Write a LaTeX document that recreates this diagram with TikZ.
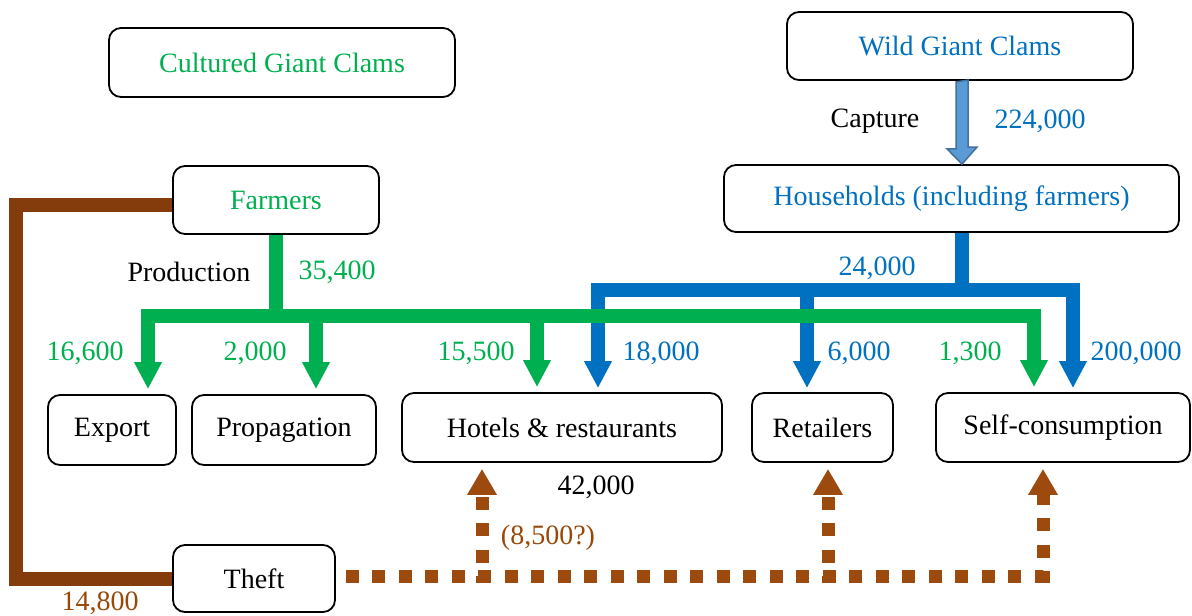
\documentclass[tikz,border=0pt]{standalone}
\usepackage{fontspec}
\setmainfont{Liberation Serif}
\usetikzlibrary{arrows.meta}
\definecolor{cgreen}{HTML}{00B050}
\definecolor{cblue}{HTML}{0070C0}
\definecolor{cbrown}{HTML}{843C0C}
\definecolor{cdot}{HTML}{9C4A0E}
\definecolor{clab}{HTML}{984807}
\definecolor{capfill}{HTML}{5B9BD5}
\definecolor{capedge}{HTML}{41719C}
\begin{document}
\begin{tikzpicture}[x=1pt,y=-1pt,
  every node/.style={font=\fontsize{28}{33}\selectfont},
  box/.style={draw, line width=1.8pt, rounded corners=12pt, fill=white, inner sep=0pt, minimum height=68pt},
  lbl/.style={inner sep=0pt},
  garrow/.style={line width=14pt, draw=cgreen, -{Triangle[width=26pt,length=27pt]}, shorten >=5pt},
  barrow/.style={line width=14pt, draw=cblue, -{Triangle[width=26pt,length=27pt]}, shorten >=4pt},
  brownline/.style={line width=14pt, draw=cbrown},
  dotarrow/.style={line width=13pt, draw=cdot, dash pattern=on 13pt off 13.5pt, -{Triangle[width=28pt,length=26pt]}, shorten >=6pt},
  capture/.style={fill=capfill, draw=capedge, line width=1.5pt, line join=miter}
]
\useasboundingbox (0,0) rectangle (1192,616);

% boxes
\node[box, minimum width=346pt, minimum height=69pt, text=cgreen] (cultured) at (282,62.5) {Cultured Giant Clams};
\node[box, minimum width=346pt, text=cblue] (wild) at (960,46) {Wild Giant Clams};
\node[box, minimum width=455pt, minimum height=67pt, text=cblue] (households) at (951.5,198.5) {Households (including farmers)};
\node[box, minimum width=206pt, text=cgreen] (farmers) at (276,200) {Farmers};
\node[box, minimum width=128pt, minimum height=70pt] (export) at (112,430) {Export};
\node[box, minimum width=184pt, minimum height=70pt] (propagation) at (284,430) {Propagation};
\node[box, minimum width=320pt, minimum height=69pt] (hotels) at (562,427.5) {Hotels \& restaurants};
\node[box, minimum width=141pt, minimum height=69pt] (retailers) at (822.5,427.5) {Retailers};
\node[box, minimum width=254pt, minimum height=69pt] (self) at (1063,427.5) {Self-consumption};
\node[box, minimum width=162pt, minimum height=67pt] (theft) at (254,578.5) {Theft};

% capture arrow
\coordinate (cx) at (962,0);
\draw[capture] (wild.south -| cx) ++(-6,1) -- ++(0,67) -- ++(-9,0) -- (households.north -| cx) -- ++(15,-17) -- ++(-9,0) -- ++(0,-67) -- cycle;

% blue flows
\coordinate (bS) at (962,290);
\coordinate (bL) at (598,290);
\coordinate (bM) at (807,290);
\coordinate (bR) at (1073,290);
\draw[barrow] (households.south -| bS) |- (bL) -- (bL |- hotels.north);
\draw[barrow] (bL) -| (bR |- self.north);
\draw[barrow] (bM) -- (bM |- retailers.north);

% green flows
\coordinate (gL) at (148,316);
\coordinate (gP) at (316,316);
\coordinate (gH) at (537,316);
\coordinate (gR) at (1034,316);
\draw[garrow] (farmers.south) |- (gL) -- (gL |- export.north);
\draw[garrow] (gL) -| (gR |- self.north);
\draw[garrow] (gP) -- (gP |- propagation.north);
\draw[garrow] (gH) -- (gH |- hotels.north);

% theft flows
\coordinate (bl) at (16,0);
\draw[brownline] ([yshift=-5pt]farmers.west) -| (theft.west -| bl) -- (theft.west);
\coordinate (d1) at (482,582.5);
\coordinate (d2) at (828,582.5);
\coordinate (d3) at (1043,0);
\draw[dotarrow, shorten <=10pt] ([yshift=2.5pt]theft.east) -| (d3 |- self.south);
\draw[dotarrow, dash phase=6.5pt] (d1) -- (d1 |- hotels.south);
\draw[dotarrow, dash phase=6.5pt] (d2) -- (d2 |- retailers.south);

% labels
\node[lbl] (capture) at (875,121) {Capture};
\node[lbl, text=cblue] (l224) at (1040,121) {224,000};
\node[lbl] (production) at (189,272) {Production};
\node[lbl, text=cgreen] (l354) at (337,272) {35,400};
\node[lbl, text=cblue] (l24) at (877,268) {24,000};
\node[lbl, text=cgreen] (l166) at (85,353) {16,600};
\node[lbl, text=cgreen] (l2) at (255,353) {2,000};
\node[lbl, text=cgreen] (l155) at (476,353) {15,500};
\node[lbl, text=cblue] (l18) at (661,353) {18,000};
\node[lbl, text=cblue] (l6) at (859,353) {6,000};
\node[lbl, text=cgreen] (l13) at (970,353) {1,300};
\node[lbl, text=cblue] (l200) at (1136,353) {200,000};
\node[lbl] (l42) at (596,487) {42,000};
\node[lbl, text=clab] (l85) at (548,538) {(8,500?)};
\node[lbl, text=clab] (l148) at (100,603) {14,800};
\end{tikzpicture}
\end{document}
